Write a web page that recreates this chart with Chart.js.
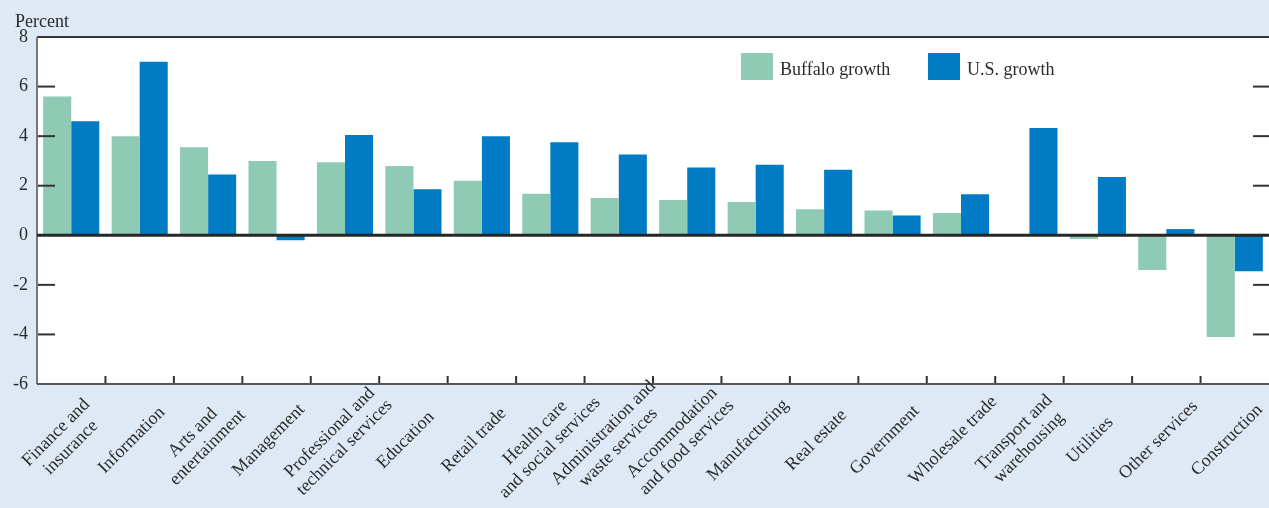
<!DOCTYPE html>
<html lang="en">
<head>
    <meta charset="UTF-8">
    <title>Buffalo vs U.S. growth</title>
    <script src="https://cdn.jsdelivr.net/npm/chart.js@4.4.1/dist/chart.umd.min.js"></script>
    <style>
        body { margin: 0; background: #dfe9f6; }
    </style>
</head>
<body>
    <canvas id="growthChart" width="1269" height="508"></canvas>
    <script>

        // data
        const categories = [
            ['Finance and', 'insurance'], 'Information', ['Arts and', 'entertainment'], 'Management',
            ['Professional and', 'technical services'], 'Education', 'Retail trade',
            ['Health care', 'and social services'], ['Administration and', 'waste services'],
            ['Accommodation', 'and food services'], 'Manufacturing', 'Real estate', 'Government',
            'Wholesale trade', ['Transport and', 'warehousing'], 'Utilities', 'Other services', 'Construction'
        ];
        const buffaloGrowth = [5.6, 4.0, 3.55, 3.0, 2.95, 2.8, 2.2, 1.68, 1.5, 1.42, 1.34, 1.05, 1.0, 0.9, 0, -0.15, -1.4, -4.1];
        const usGrowth = [4.6, 7.0, 2.45, -0.2, 4.05, 1.86, 4.0, 3.75, 3.26, 2.73, 2.85, 2.64, 0.8, 1.66, 4.33, 2.35, 0.25, -1.45];
        const yTicks = [-6, -4, -2, 0, 2, 4, 6, 8];

        const fontFamily = '"Liberation Serif", "DejaVu Serif", serif';
        const textColor = '#2a2a2a';

        //frame, small tick marks, zero line, legend and x labels
        const decor = {
            id: 'decor',
            beforeDraw(chart) {
                const { ctx, chartArea: a } = chart;
                ctx.save();
                ctx.fillStyle = '#dfe9f6';
                ctx.fillRect(0, 0, chart.width, chart.height);
                ctx.fillStyle = '#ffffff';
                ctx.fillRect(a.left, a.top, a.right - a.left, a.bottom - a.top);
                ctx.fillStyle = textColor;
                ctx.font = '18px ' + fontFamily;
                ctx.textAlign = 'left';
                ctx.textBaseline = 'alphabetic';
                ctx.fillText('Percent', 15, 27);
                ctx.restore();
            },
            afterDatasetsDraw(chart) {
                const { ctx, chartArea: a, scales: { x, y } } = chart;
                const line = (x1, y1, x2, y2) => {
                    ctx.beginPath(); ctx.moveTo(x1, y1); ctx.lineTo(x2, y2); ctx.stroke();
                };
                ctx.save();
                ctx.lineWidth = 2;
                ctx.strokeStyle = '#333';
                yTicks.forEach(v => {
                    if (v === 0 || v === yTicks[0] || v === yTicks[yTicks.length - 1]) return;
                    const py = y.getPixelForValue(v);
                    line(a.left, py, a.left + 18, py);
                    line(a.right - 16, py, a.right, py);
                });
                for (let i = 1; i < categories.length; i++) {
                    const px = (x.getPixelForValue(i - 1) + x.getPixelForValue(i)) / 2;
                    line(px, a.bottom, px, a.bottom - 8);
                }
                // borders
                ctx.strokeStyle = '#333';
                line(a.left, a.top, a.right, a.top);
                ctx.strokeStyle = '#777';
                line(a.left, a.top, a.left, a.bottom);
                ctx.strokeStyle = '#555';
                line(a.left, a.bottom, a.right, a.bottom);
                // zero line
                ctx.lineWidth = 3;
                ctx.strokeStyle = '#262626';
                const y0 = y.getPixelForValue(0);
                line(a.left, y0, a.right, y0);

                // legend
                ctx.font = '18px ' + fontFamily;
                ctx.textBaseline = 'alphabetic';
                ctx.textAlign = 'left';
                const legendX = [741, 928];
                chart.data.datasets.forEach((ds, i) => {
                    ctx.fillStyle = ds.backgroundColor;
                    ctx.fillRect(legendX[i], 53, 32, 27);
                    ctx.fillStyle = textColor;
                    ctx.fillText(ds.label, legendX[i] + 39, 75);
                });

                // rotated category labels, lines centred on each other
                ctx.textAlign = 'center';
                categories.forEach((lab, i) => {
                    const lines = Array.isArray(lab) ? lab : [lab];
                    const px = x.getPixelForValue(i);
                    ctx.save();
                    ctx.translate(px - 8, 440);
                    ctx.rotate(-Math.PI / 4);
                    lines.forEach((ln, j) => ctx.fillText(ln, 0, (j - (lines.length - 1) / 2) * 21 + 5));
                    ctx.restore();
                });
                ctx.restore();
            }
        };

        const ctx = document.getElementById('growthChart').getContext('2d');
        const growthChart = new Chart(ctx, {
            type: 'bar',
            data: {
                labels: categories,
                datasets: [{
                    label: 'Buffalo growth',
                    backgroundColor: '#8ecab4',
                    data: buffaloGrowth
                }, {
                    label: 'U.S. growth',
                    backgroundColor: '#007bc4',
                    data: usGrowth
                }]
            },
            options: {
                responsive: false,
                animation: false,
                layout: { padding: { top: 37, right: 0, left: 0, bottom: 0 } },
                categoryPercentage: 0.82,
                barPercentage: 1.0,
                plugins: {
                    legend: { display: false },
                    tooltip: { enabled: false }
                },
                scales: {
                    x: {
                        grid: { display: false, drawTicks: false },
                        border: { display: false },
                        ticks: { display: false },
                        afterFit: s => { s.height = 124; }
                    },
                    y: {
                        min: -6,
                        max: 8,
                        grid: { display: false, drawTicks: false },
                        border: { display: false },
                        ticks: {
                            stepSize: 2,
                            padding: 9,
                            color: textColor,
                            font: { family: fontFamily, size: 18 }
                        },
                        afterFit: s => { s.width = 37; }
                    }
                }
            },
            plugins: [decor]
        });
    </script>
</body>
</html>
